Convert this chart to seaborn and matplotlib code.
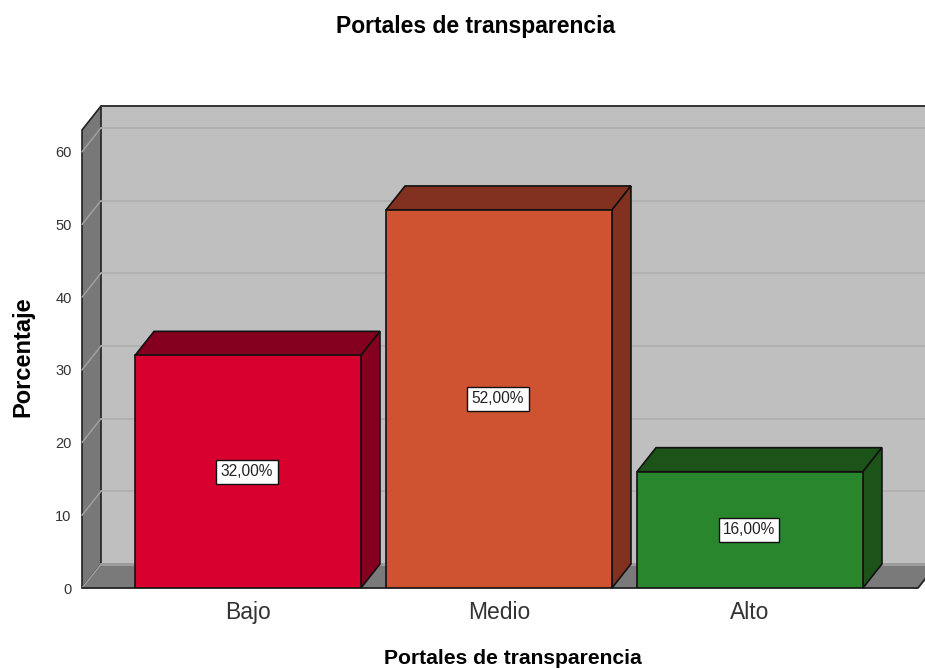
import numpy as np
import pandas as pd
import matplotlib
matplotlib.use("Agg")
import matplotlib.pyplot as plt
from matplotlib.patches import Polygon
import seaborn as sns

categories = ["Bajo", "Medio", "Alto"]
percent = [32, 52, 16]
labels = ["32,00%", "52,00%", "16,00%"]
front_colors = ["#d7002f", "#cf5330", "#2a862c"]
dark_colors = ["#85001f", "#823120", "#1b5318"]
y_ticks = [0, 10, 20, 30, 40, 50, 60]

W, H = 925, 669
sns.set_theme(style="white")
plt.rcParams["font.family"] = ["Liberation Sans", "DejaVu Sans"]

fig = plt.figure(figsize=(W / 100, H / 100), dpi=100)
L, R, B, T = 82, 918, 588, 130
ax = fig.add_axes([L / W, 1 - B / H, (R - L) / W, (B - T) / H])

df = pd.DataFrame({"cat": categories, "pct": percent})
sns.barplot(data=df, x="cat", y="pct", hue="cat", palette=front_colors, width=0.9,
            legend=False, edgecolor="#111111", linewidth=1.2, saturation=1, ax=ax, zorder=5)

cat_px = 251.0
ppu = 7.27
ax.set_xlim(-(248 - L) / cat_px, (R - 248) / cat_px)
ax.set_ylim(0, (B - T) / ppu)
dx = 19.0 / cat_px
dy = 24.0 / ppu
x0, x1 = ax.get_xlim()
y1 = ax.get_ylim()[1]

edge = "#222222"
def poly(pts, fc, z, ec=edge, lw=1.2):
    ax.add_patch(Polygon(pts, closed=True, facecolor=fc, edgecolor=ec, linewidth=lw,
                         clip_on=False, zorder=z, joinstyle="miter"))

# walls and floor
poly([(x0 + dx, dy), (x1 + dx, dy), (x1 + dx, y1 + dy), (x0 + dx, y1 + dy)], "#bfbfbf", 1, ec="none")
ax.plot([x0 + dx, x1 + dx], [y1 + dy, y1 + dy], color="#333333", lw=1.4, clip_on=False, zorder=3)
poly([(x0, 0), (x0 + dx, dy), (x0 + dx, y1 + dy), (x0, y1)], "#787878", 1.5)
poly([(x0, 0), (x1, 0), (x1 + dx, dy), (x0 + dx, dy)], "#7a7a7a", 1.5, ec="none")
ax.plot([x0 + dx, x1 + dx], [dy, dy], color="#9c9c9c", lw=2.2, clip_on=False, zorder=2)
ax.plot([x0, x1, x1 + dx], [0, 0, dy], color="#222222", lw=1.3, clip_on=False, zorder=3)
ax.plot([x0, x0 + dx], [0, dy], color="#a0a0a0", lw=1, clip_on=False, zorder=2)

for t in y_ticks[1:]:
    ax.plot([x0 + dx, x1 + dx], [t + dy, t + dy], color="#b0b0b0", lw=1.3, clip_on=False, zorder=2)
    ax.plot([x0, x0 + dx], [t, t + dy], color="#a0a0a0", lw=1.1, clip_on=False, zorder=2)

# 3D faces of the bars
for bar, v, dark, lab in zip(ax.patches[:3], percent, dark_colors, labels):
    a, b = bar.get_x(), bar.get_x() + bar.get_width()
    poly([(a, v), (b, v), (b + dx, v + dy), (a + dx, v + dy)], dark, 4, ec="#111111")
    poly([(b, 0), (b + dx, dy), (b + dx, v + dy), (b, v)], dark, 4, ec="#111111")
    ax.text((a + b) / 2 - 0.004, v / 2, lab, ha="center", va="center", fontsize=11.2, color="#222222", zorder=7,
            bbox=dict(boxstyle="square,pad=0.28", fc="white", ec="#111111", lw=1))

for s in ax.spines.values():
    s.set_visible(False)
ax.set_yticks(y_ticks)
ax.tick_params(axis="y", length=0, pad=7.5, labelsize=10.5, labelcolor="#333333")
ax.tick_params(axis="x", length=0, pad=9.5, labelsize=16.5, labelcolor="#333333")
ax.set_xlabel("")
ax.set_ylabel("")
fig.text(476 / W, 1 - 26 / H, "Portales de transparencia", ha="center", va="center",
         fontsize=16.5, fontweight="bold", color="black")
fig.text(513 / W, 1 - 658 / H, "Portales de transparencia", ha="center", va="center",
         fontsize=15.2, fontweight="bold", color="black")
fig.text(23 / W, 1 - 357 / H, "Porcentaje", rotation=90, ha="center", va="center",
         fontsize=17, fontweight="bold", color="black")
fig.savefig("out.png", dpi=100)
